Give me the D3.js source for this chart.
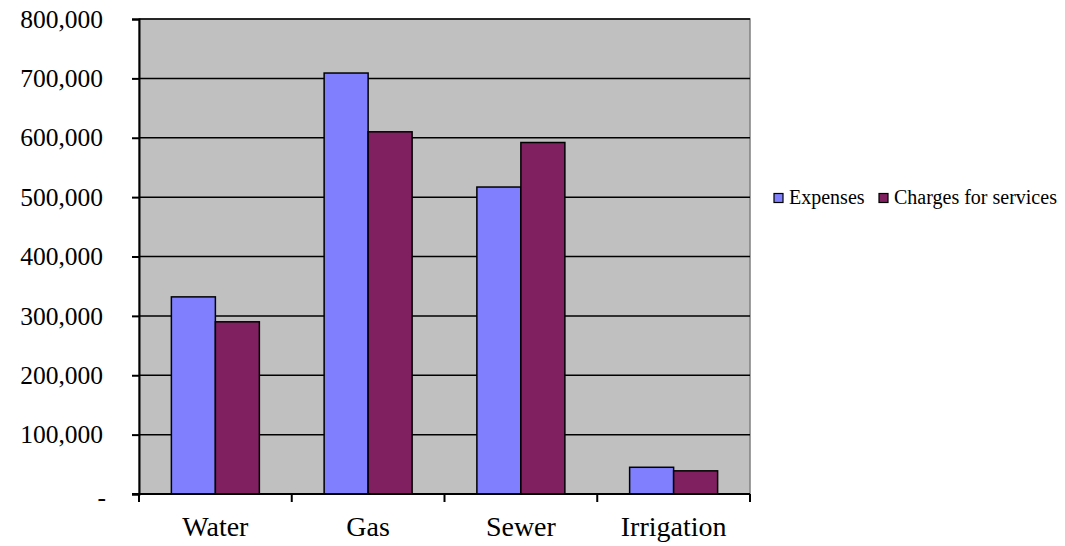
<!DOCTYPE html>
<html><head><meta charset="utf-8">
<script src="https://cdn.jsdelivr.net/npm/d3@7"></script>
<style>
body{margin:0;background:#fff}
svg{display:block}
svg text{font-family:"Liberation Serif","Times New Roman","DejaVu Serif",serif !important;fill:#000}
</style>
</head><body>
<script>
const categories = ["Water", "Gas", "Sewer", "Irrigation"];
const seriesNames = ["Expenses", "Charges for services"];
const expenses = [332000, 709000, 517000, 45000];
const charges = [290000, 610000, 592000, 39000];
const yTicks = [0, 100000, 200000, 300000, 400000, 500000, 600000, 700000, 800000];
const colors = ["#8080FF", "#802060"];

const W = 1065, H = 546;
const m = {l: 139, r: 750, t: 19, b: 494};
const svg = d3.select("body").append("svg").attr("width", W).attr("height", H);

const x = d3.scaleBand().domain(categories).range([m.l, m.r]).paddingInner(0).paddingOuter(0);
const y = d3.scaleLinear().domain([0, 800000]).range([m.b, m.t]);
const xs = d3.scaleBand().domain(seriesNames).range([0, x.bandwidth()]).paddingOuter(0.736).paddingInner(0);

svg.append("rect").attr("x", m.l).attr("y", m.t).attr("width", m.r - m.l).attr("height", m.b - m.t)
  .attr("fill", "#C0C0C0").attr("stroke", "#808080").attr("stroke-width", 1.5);

svg.append("g").selectAll("line").data(yTicks.slice(1)).join("line")
  .attr("x1", m.l).attr("x2", m.r).attr("y1", d => y(d)).attr("y2", d => y(d))
  .attr("stroke", "#000").attr("stroke-width", 1.5);

const data = categories.map((c, i) => ({c, vals: [expenses[i], charges[i]]}));
const g = svg.append("g").selectAll("g").data(data).join("g")
  .attr("transform", d => `translate(${x(d.c)},0)`);
g.selectAll("rect").data(d => d.vals.map((v, j) => ({v, s: seriesNames[j], j}))).join("rect")
  .attr("x", d => xs(d.s)).attr("width", xs.bandwidth())
  .attr("y", d => y(d.v)).attr("height", d => y(0) - y(d.v))
  .attr("fill", d => colors[d.j]).attr("stroke", "#000").attr("stroke-width", 1.5);

const fmt = d => d === 0 ? "-" : d3.format(",")(d);
const ya = svg.append("g").attr("transform", `translate(${m.l},0)`)
  .call(d3.axisLeft(y).tickValues(yTicks).tickFormat(fmt).tickSize(7).tickPadding(29));
ya.select(".domain").attr("stroke", "#000").attr("stroke-width", 2);
ya.selectAll(".tick line").attr("stroke", "#000").attr("stroke-width", 2);
ya.selectAll("text").attr("font-size", 25.5);
ya.selectAll(".tick").filter(d => d === 0).select("text").attr("dx", 3).attr("dy", "0.45em");

const xa = svg.append("g").attr("transform", `translate(0,${m.b})`)
  .call(d3.axisBottom(x).tickSize(0).tickPadding(22));
xa.select(".domain").remove();
xa.selectAll("text").attr("font-size", 28);
svg.append("line").attr("x1", m.l - 7).attr("x2", m.r).attr("y1", m.b).attr("y2", m.b)
  .attr("stroke", "#000").attr("stroke-width", 2);
const bTicks = categories.map(c => x(c)).concat([m.r]);
svg.append("g").selectAll("line").data(bTicks).join("line")
  .attr("x1", d => d).attr("x2", d => d).attr("y1", m.b).attr("y2", m.b + 8)
  .attr("stroke", "#000").attr("stroke-width", 2);

const leg = svg.append("g").attr("transform", "translate(774,198)");
const offs = [0, 105];
seriesNames.forEach((s, i) => {
  const lg = leg.append("g").attr("transform", `translate(${offs[i]},0)`);
  lg.append("rect").attr("x", 0).attr("y", -4.5).attr("width", 9).attr("height", 9)
    .attr("fill", colors[i]).attr("stroke", "#000").attr("stroke-width", 1.2);
  lg.append("text").attr("x", 15).attr("y", 6)
    .attr("font-size", 20).text(s);
});
</script>
</body></html>
